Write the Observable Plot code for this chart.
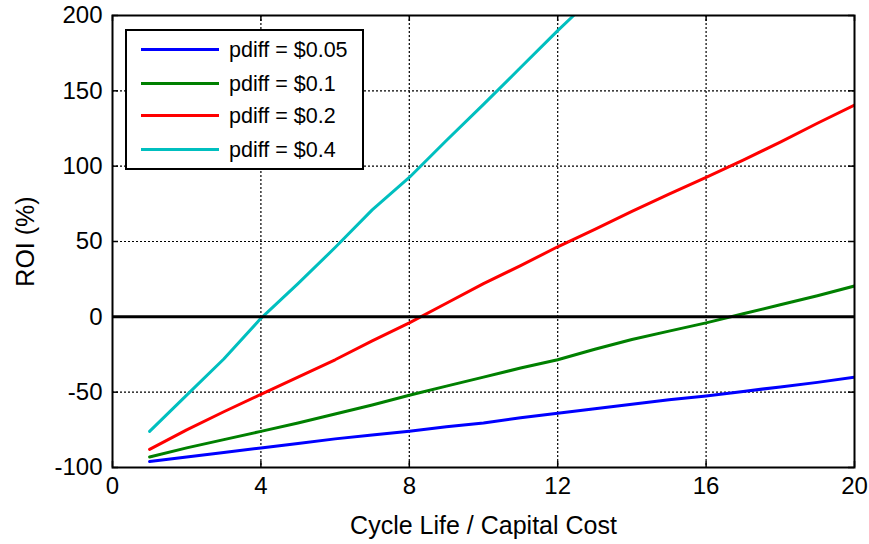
<!DOCTYPE html>
<html><head><meta charset="utf-8">
<script src="https://cdn.jsdelivr.net/npm/d3@7"></script>
<script src="https://cdn.jsdelivr.net/npm/@observablehq/plot@0.6"></script>
<style>
body{margin:0;background:#fff;font-family:"Liberation Sans",Arial,sans-serif;}
#wrap{position:relative;width:869px;height:544px;}
#legend{position:absolute;left:125px;top:29px;width:235px;height:137px;border:2px solid #000;background:#fff;}
.row{position:absolute;left:0;width:100%;height:24px;}
.sw{position:absolute;left:14px;top:10px;width:78px;height:3px;}
.lt{position:absolute;left:102px;top:0;line-height:24px;font-size:21.5px;white-space:nowrap;color:#000;}
svg g[aria-label="x-axis tick label"] text, svg g[aria-label="y-axis tick label"] text{font-size:24px;}
svg g[aria-label="x-axis label"] text, svg g[aria-label="y-axis label"] text{font-size:25px;}
</style></head>
<body><div id="wrap"><div id="legend"></div></div>
<script>
const cycleLife = [1,2,3,4,5,6,7,8,9,10,11,12,13,14,15,16,17,18,19,20];
const roi005 = [-96,-93,-90,-87,-84,-81,-78.5,-76,-73,-70.5,-67,-64,-61,-58,-55,-52.5,-49.5,-46.5,-43.5,-40];
const roi01  = [-93,-87,-81.5,-76,-70.5,-64.5,-58.5,-52,-46,-40,-34,-28.5,-21.5,-15,-9.5,-4,2,8,14,20.5];
const roi02  = [-88,-75,-63,-51.5,-40,-28.5,-16,-4,9,22,34,46.5,58,70,81.5,92.5,104,116,128.5,140.5];
const cyanX  = [1,2,3,4,5,6,7,8,9,10,11,12,12.43];
const roi04  = [-76,-52,-28,-1,22,46,71,92.5,117,141,165.5,190,200];
const seriesNames = ["pdiff = $0.05","pdiff = $0.1","pdiff = $0.2","pdiff = $0.4"];
const colors = ["#0000ff","#008000","#ff0000","#00bfbf"];
const xTicks = [0,4,8,12,16,20];
const yTicks = [-100,-50,0,50,100,150,200];

const data = [];
cycleLife.forEach((x,i)=>{
  data.push({x,y:roi005[i],s:seriesNames[0]});
  data.push({x,y:roi01[i],s:seriesNames[1]});
  data.push({x,y:roi02[i],s:seriesNames[2]});
});
cyanX.forEach((x,i)=>data.push({x,y:roi04[i],s:seriesNames[3]}));

const H = 544, mT = 15, mB = 77, tick = 6;
const inner = H - mT - mB;
const fmt = d => String(d);

const chart = Plot.plot({
  width:869, height:H,
  marginLeft:112, marginRight:15, marginTop:mT, marginBottom:mB,
  style:{fontFamily:"Liberation Sans, Arial, sans-serif", fontSize:"24px", color:"#000", background:"#fff"},
  x:{domain:[0,20], ticks:xTicks},
  y:{domain:[-100,200], ticks:yTicks},
  color:{domain:seriesNames, range:colors},
  marks:[
    Plot.ruleX(xTicks.slice(1,-1), {stroke:"#000", strokeDasharray:"2,2", strokeWidth:1.2}),
    Plot.ruleY(yTicks.filter(v=>v!==0 && v!==-100 && v!==200), {stroke:"#000", strokeDasharray:"2,2", strokeWidth:1.2}),
    Plot.tickX(xTicks, {x:d=>d, stroke:"#000", strokeWidth:1.5, insetTop:inner-tick}),
    Plot.tickX(xTicks, {x:d=>d, stroke:"#000", strokeWidth:1.5, insetBottom:inner-tick}),
    Plot.tickY(yTicks, {y:d=>d, stroke:"#000", strokeWidth:1.5, insetRight:869-112-15-tick}),
    Plot.tickY(yTicks, {y:d=>d, stroke:"#000", strokeWidth:1.5, insetLeft:869-112-15-tick}),
    Plot.line(data, {x:"x", y:"y", z:"s", stroke:"s", strokeWidth:3, clip:true}),
    Plot.ruleY([0], {stroke:"#000", strokeWidth:3}),
    Plot.frame({stroke:"#000", strokeWidth:2}),
    Plot.axisX({ticks:xTicks, tickSize:0, tickPadding:9, tickFormat:fmt, label:"Cycle Life / Capital Cost", labelAnchor:"center", labelArrow:"none", labelOffset:66}),
    Plot.axisY({ticks:yTicks, tickSize:0, tickPadding:10, tickFormat:fmt, label:"ROI (%)", labelAnchor:"center", labelArrow:"none", labelOffset:96})
  ]
});
document.getElementById("wrap").prepend(chart);

const lg = document.getElementById("legend");
const rowTops = [7,41,73,107];
seriesNames.forEach((n,i)=>{
  const r = document.createElement("div");
  r.className="row"; r.style.top=rowTops[i]+"px";
  r.innerHTML = `<div class="sw" style="background:${colors[i]}"></div><div class="lt">${n}</div>`;
  lg.appendChild(r);
});
</script></body></html>
